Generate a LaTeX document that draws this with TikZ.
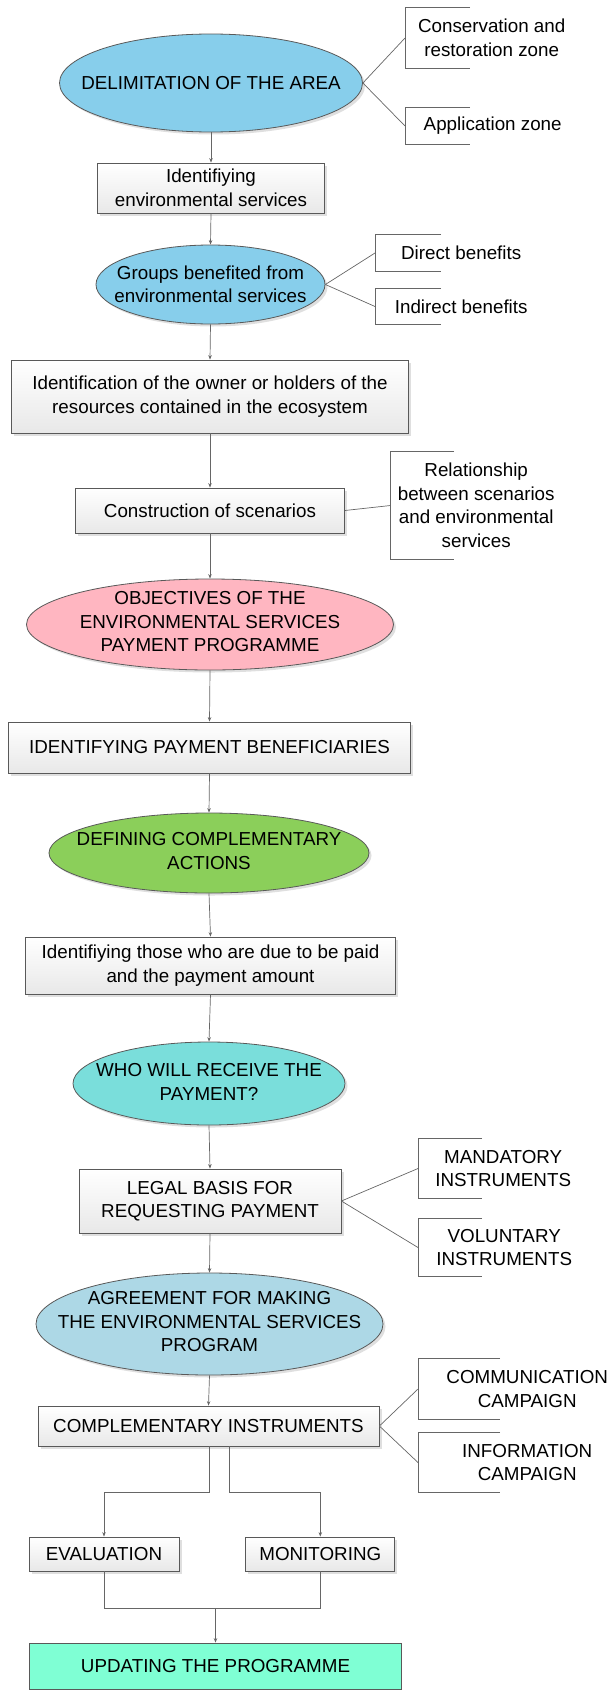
\documentclass[tikz,border=0pt]{standalone}
\usepackage{fontspec}
\setmainfont{Liberation Sans}
\usetikzlibrary{shapes.geometric,shadows,arrows.meta}
\definecolor{bord}{HTML}{595959}
\definecolor{linec}{HTML}{666666}
\definecolor{skyb}{HTML}{87CEEB}
\definecolor{pinkf}{HTML}{FFB6C1}
\definecolor{greenf}{HTML}{8BCF5A}
\definecolor{turq}{HTML}{7ADEDB}
\definecolor{lblue}{HTML}{ADD8E6}
\definecolor{aqua}{HTML}{7FFFD4}
\begin{document}
\begin{tikzpicture}[x=1pt,y=-1pt,
  shad/.style={drop shadow={shadow xshift=2.5pt,shadow yshift=-2.5pt,fill=black!25,opacity=0.5}},
  ell/.style={ellipse,draw=bord,line width=0.8pt,inner sep=0pt,shad},
  txt/.style={font=\fontsize{18.8}{23.5}\selectfont,align=center,inner sep=0pt},
  box/.style={txt,rectangle,draw=bord,line width=0.8pt,top color=white,bottom color=black!9,shad},
  brk/.style={txt,anchor=west},
  arr/.style={draw=linec,line width=0.7pt,-{Stealth[length=4.5pt,width=3.5pt]}},
  ln/.style={draw=linec,line width=0.7pt}]
\useasboundingbox (0,0) rectangle (611,1691);

% ellipses
\node[ell,fill=skyb,minimum width=303pt,minimum height=98pt] (del) at (211,83) {};
\node[txt] (delt) at (del) {DELIMITATION OF THE AREA};
\node[ell,fill=skyb,minimum width=229pt,minimum height=79pt] (grp) at (210.5,284.5) {};
\node[txt] (grpt) at (grp) {Groups benefited from\\environmental services};
\node[ell,fill=pinkf,minimum width=367pt,minimum height=91pt] (obj) at (210,624.5) {};
\node[txt] (objt) at (210,622) {OBJECTIVES OF THE\\ENVIRONMENTAL SERVICES\\PAYMENT PROGRAMME};
\node[ell,fill=greenf,minimum width=320pt,minimum height=80pt] (def) at (209,853) {};
\node[txt] (deft) at (209,851) {DEFINING COMPLEMENTARY\\ACTIONS};
\node[ell,fill=turq,minimum width=272pt,minimum height=83pt] (who) at (209,1083.5) {};
\node[txt] (whot) at (209,1082) {WHO WILL RECEIVE THE\\PAYMENT?};
\node[ell,fill=lblue,minimum width=347pt,minimum height=102pt] (agr) at (209.5,1324) {};
\node[txt] (agrt) at (209.5,1322) {AGREEMENT FOR MAKING\\THE ENVIRONMENTAL SERVICES\\PROGRAM};

% boxes
\node[box,minimum width=227pt,minimum height=50pt] (ide) at (211,188) {Identifiying\\environmental services};
\node[box,minimum width=397pt,minimum height=73pt] (own) at (210,396.5) {Identification of the owner or holders of the\\resources contained in the ecosystem};
\node[box,minimum width=269pt,minimum height=45pt] (con) at (210,510.5) {Construction of scenarios};
\node[box,minimum width=402pt,minimum height=51pt] (pay) at (209.5,747.5) {IDENTIFYING PAYMENT BENEFICIARIES};
\node[box,minimum width=370pt,minimum height=57pt] (due) at (210.5,965.5) {Identifiying those who are due to be paid\\and the payment amount};
\node[box,minimum width=262pt,minimum height=64pt] (leg) at (210,1201) {LEGAL BASIS FOR\\REQUESTING PAYMENT};
\node[box,minimum width=341pt,minimum height=40pt] (cmp) at (208.5,1426) {COMPLEMENTARY INSTRUMENTS};
\node[box,minimum width=150pt,minimum height=34pt] (eva) at (104,1554) {EVALUATION};
\node[box,minimum width=149pt,minimum height=34pt] (mon) at (320.3,1554) {MONITORING};
\node[txt,rectangle,draw=bord,line width=0.8pt,fill=aqua,minimum width=372pt,minimum height=46pt] (upd) at (215.5,1666) {UPDATING THE PROGRAMME};

% side brackets
\node[brk,minimum width=173pt,minimum height=60pt] (cons) at (405,38) {Conservation and\\restoration zone};
\node[brk,minimum width=175pt,minimum height=36pt] (app) at (405,126) {Application zone};
\node[brk,minimum width=172pt,minimum height=36pt] (dir) at (375,253) {Direct benefits};
\node[brk,minimum width=172pt,minimum height=35pt] (ind) at (375,306.5) {Indirect benefits};
\node[brk,minimum width=171pt,minimum height=107pt] (rel) at (390.5,505.5) {Relationship\\between scenarios\\and environmental\\services};
\node[brk,minimum width=170pt,minimum height=59pt] (man) at (418,1168.5) {MANDATORY\\INSTRUMENTS};
\node[brk,minimum width=172pt,minimum height=57pt] (vol) at (418,1247.5) {VOLUNTARY\\INSTRUMENTS};
\node[brk,minimum width=218pt,minimum height=60pt] (com) at (418,1389) {COMMUNICATION\\CAMPAIGN};
\node[brk,minimum width=218pt,minimum height=59pt] (inf) at (418,1462.5) {INFORMATION\\CAMPAIGN};
\foreach \n/\l in {cons/65,app/65,dir/66,ind/66,rel/63.5,man/64,vol/64,com/82,inf/82}
  \draw[ln] ([xshift=\l pt]\n.north west) -- (\n.north west) -- (\n.south west) -- ([xshift=\l pt]\n.south west);

% side connectors
\draw[ln] (del.east) -- (cons.west);
\draw[ln] (del.east) -- (app.west);
\draw[ln] (grp.east) -- (dir.west);
\draw[ln] (grp.east) -- (ind.west);
\draw[ln] (con.east) -- (rel.west);
\draw[ln] (leg.east) -- (man.west);
\draw[ln] (leg.east) -- (vol.west);
\draw[ln] (cmp.east) -- (com.west);
\draw[ln] (cmp.east) -- (inf.west);

% main flow
\draw[arr] (del.south) -- (ide.north);
\draw[arr] (ide.south) -- (grp.north);
\draw[arr] (grp.south) -- (own.north);
\draw[arr] (own.south) -- (con.north);
\draw[arr] (con.south) -- (obj.north);
\draw[arr] (obj.south) -- (pay.north);
\draw[arr] (pay.south) -- (def.north);
\draw[arr] (def.south) -- (due.north);
\draw[arr] (due.south) -- (who.north);
\draw[arr] (who.south) -- (leg.north);
\draw[arr] (leg.south) -- (agr.north);
\draw[arr] (agr.south) -- (cmp.north);
\draw[arr] ([xshift=1pt]cmp.south) -- ++(0,46) -| (eva.north);
\draw[arr] ([xshift=20.5pt]cmp.south) -- ++(0,46) -| (mon.north);
\draw[ln] (eva.south) -- ++(0,37) -| (mon.south);
\coordinate (mj) at (215.5,1608);
\draw[arr] (mj) -- (upd.north);
\end{tikzpicture}
\end{document}
